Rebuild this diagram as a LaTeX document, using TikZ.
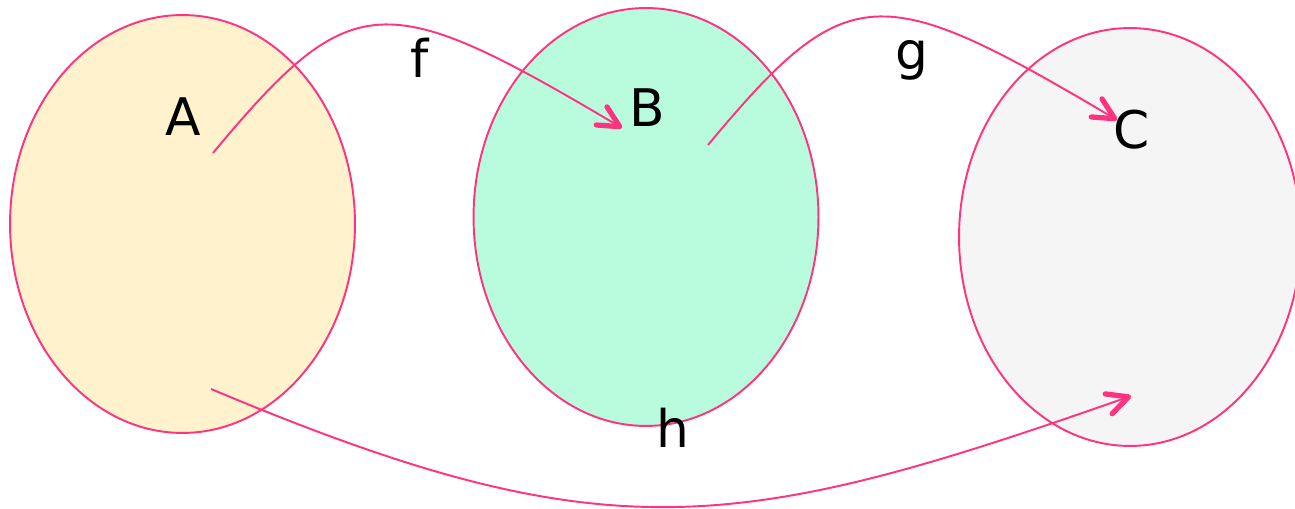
\documentclass[tikz,border=0pt]{standalone}
\usepackage{fontspec}
\setmainfont{DejaVu Sans}
\usetikzlibrary{arrows.meta, shapes.geometric, positioning}
\definecolor{setpink}{RGB}{255,51,128}
\definecolor{setyellow}{RGB}{255,242,204}
\definecolor{setmint}{RGB}{185,252,221}
\definecolor{setgrey}{RGB}{245,245,245}
\tikzset{
  setnode/.style={
    ellipse, inner sep=0pt, outer sep=0pt,
    minimum width=6.9cm, minimum height=8.36cm,
    draw=setpink, line width=1.1pt, fill=#1
  },
  maparrow/.style={
    -{Straight Barb[length=0.42cm, width=0.42cm, line width=3pt 0, round]},
    line width=1.1pt, color=setpink
  },
  setlabel/.style={
    anchor=base, inner sep=0pt, text=black,
    font=\fontsize{29.5}{35}\selectfont
  },
}

\begin{document}
\begin{tikzpicture}[x=0.02cm, y=-0.02cm]
      \useasboundingbox (0,0) rectangle (1295,509);
      \node[setnode=setyellow](setA) at (182.5,224) {};
      \node[setnode=setmint]  (setB) at (646,217)   {};
      \begin{scope}
        \clip (0,0) rectangle (1295,509);
        \node[setnode=setgrey, minimum width=6.84cm](setC) at (1130,237) {};
      \end{scope}
      \coordinate (fstart) at (213,153);
      \coordinate (ftip)   at (622,128);
      \coordinate (gstart) at (708,145);
      \coordinate (gtip)   at (1117,120);
      \coordinate (hstart) at (211,389);
      \coordinate (htip)   at (1131,396);
      \draw[maparrow](fstart) .. controls (352,-14) and (384,-13) .. (ftip);
      \draw[maparrow](gstart) .. controls (847,-22) and (879,-21) .. (gtip);
      \draw[maparrow](hstart) .. controls (606,555) and (735,535) .. (htip);
      \node[setlabel](labA) at (183,136)  {A};
      \node[setlabel](labB) at (647,127)  {B};
      \node[setlabel](labC) at (1132,149) {C};
      \node[setlabel](labf) at (420,78)   {f};
      \node[setlabel](labg) at (912,70)   {g};
      \node[setlabel](labh) at (673,448)  {h};
    \end{tikzpicture}
\end{document}
